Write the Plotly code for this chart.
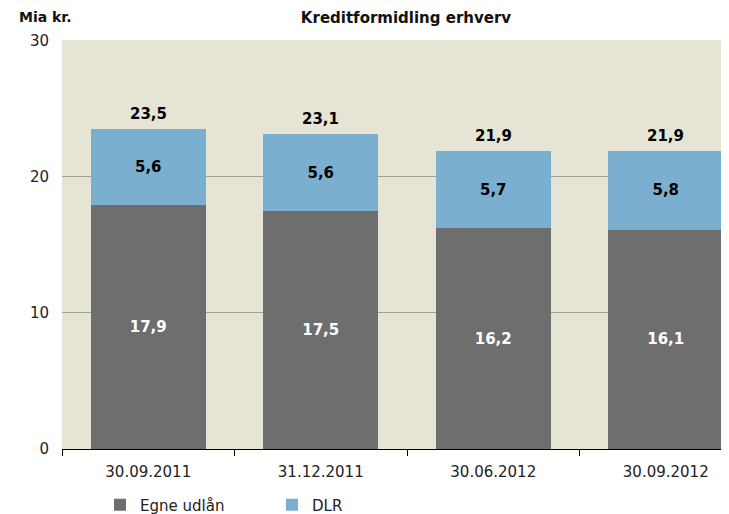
import plotly.graph_objects as go

categories = ["30.09.2011", "31.12.2011", "30.06.2012", "30.09.2012"]
egne_udlaan = [17.9, 17.5, 16.2, 16.1]
dlr = [5.6, 5.6, 5.7, 5.8]
totals = [23.5, 23.1, 21.9, 21.9]
y_ticks = [0, 10, 20, 30]

def fmt(v):
    return f"{v:.1f}".replace(".", ",")

FONT = "DejaVu Sans, Verdana, sans-serif"
W, H = 721, 506          # page body has an 8px margin
ML, MT, MB = 54, 32, 65
PW, PH = W - ML, H - MT - MB

fig = go.Figure()
fig.add_trace(go.Bar(
    x=categories, y=egne_udlaan, name="Egne udlån",
    marker=dict(color="#6e6e6e", line=dict(width=0)),
    text=[fmt(v) for v in egne_udlaan], textposition="inside",
    insidetextanchor="middle", textangle=0,
    textfont=dict(family=FONT, size=15, color="white", weight="bold"),
))
fig.add_trace(go.Bar(
    x=categories, y=dlr, name="DLR",
    marker=dict(color="#7bafcf", line=dict(width=0)),
    text=[fmt(v) for v in dlr], textposition="inside",
    insidetextanchor="middle", textangle=0,
    textfont=dict(family=FONT, size=15, color="black", weight="bold"),
))

annotations = [dict(text="<b>Mia kr.</b>", xref="paper", yref="paper",
                    x=(9 - ML) / PW, xanchor="left", y=1 + (MT - 9.5) / PH, yanchor="middle",
                    showarrow=False, font=dict(family=FONT, size=14, color="#111"))]
for c, t in zip(categories, totals):
    annotations.append(dict(x=c, y=t, xref="x", yref="y", text=f"<b>{fmt(t)}</b>",
                            showarrow=False, yanchor="bottom", yshift=4,
                            font=dict(family=FONT, size=15, color="black")))

fig.update_layout(
    width=W, height=H,
    barmode="stack", bargap=0.333,
    paper_bgcolor="white", plot_bgcolor="#e6e4d4",
    margin=dict(l=ML, r=0, t=MT, b=MB, autoexpand=False),
    font=dict(family=FONT, size=15, color="#111"),
    title=dict(text="<b>Kreditformidling erhverv</b>", x=398 / W, xanchor="center",
               y=1 - 9.5 / H, yanchor="middle", yref="container",
               font=dict(family=FONT, size=15, color="#111")),
    showlegend=True,
    legend=dict(orientation="h", xref="container", yref="container",
                x=92 / W, xanchor="left", y=(H - 497) / H, yanchor="middle",
                traceorder="normal",
                entrywidth=127, entrywidthmode="pixels",
                font=dict(family=FONT, size=15, color="#222"), bgcolor="rgba(0,0,0,0)",
                itemsizing="constant"),
    annotations=annotations,
)
fig.update_xaxes(
    type="category", tickson="boundaries", ticks="outside", ticklen=6,
    tickcolor="black", showline=True, linecolor="black", linewidth=1,
    range=[-0.5, 3.5 - 23 / 172.5], showgrid=False, automargin=False,
    ticklabelstandoff=9, tickfont=dict(family=FONT, size=15, color="#222"),
)
fig.update_yaxes(
    range=[0, 30.03], tickvals=y_ticks, showgrid=True, gridcolor="#a09f98",
    gridwidth=1, zeroline=False, showline=False, ticks="", automargin=False,
    ticklabelstandoff=12, tickfont=dict(family=FONT, size=15, color="#222"),
)
fig.write_html("out.html")
